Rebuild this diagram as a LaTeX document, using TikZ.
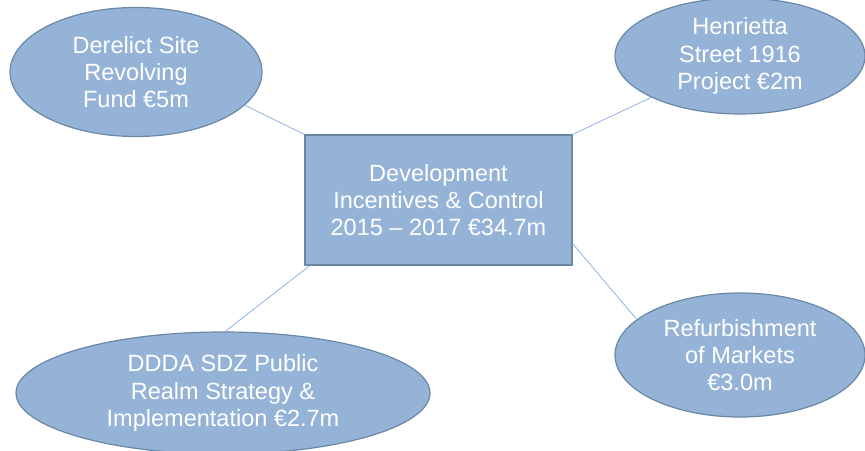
\documentclass[tikz,border=0pt]{standalone}
\usepackage{fontspec}
\setmainfont{Liberation Sans}
\usetikzlibrary{shapes.geometric}
\definecolor{boxfill}{HTML}{95B3D7}
\definecolor{boxline}{HTML}{6A87A6}
\definecolor{linkcol}{HTML}{8DB3E2}
\tikzset{
  lbl/.style={text=white, align=center, font=\fontsize{23.6}{27.5}\selectfont},
  ell/.style={ellipse, fill=boxfill, draw=boxline, line width=1.2bp, inner sep=0pt, lbl},
  hub/.style={rectangle, fill=boxfill, draw=boxline, line width=1.2bp, inner sep=0pt, lbl},
  link/.style={draw=linkcol, line width=0.8bp}
}
\begin{document}
\begin{tikzpicture}[x=1bp,y=-1bp]
\useasboundingbox (0,0) rectangle (865,451);
\node[hub, minimum width=267bp, minimum height=130bp] (c) at (438.5,200) {Development\\Incentives \& Control\\2015 -- 2017 €34.7m};
\node[ell, minimum width=252bp, minimum height=129bp] (d) at (136,72) {Derelict Site\\Revolving\\Fund €5m};
\node[ell, minimum width=250bp, minimum height=116bp] (h) at (740,56) {Henrietta\\Street 1916\\Project €2m};
\node[ell, minimum width=250bp, minimum height=124bp] (r) at (740,355) {Refurbishment\\of Markets\\€3.0m};
\node[ell, minimum width=414bp, minimum height=122bp] (p) at (223,393) {DDDA SDZ Public\\Realm Strategy \&\\Implementation €2.7m};
\draw[link] (d.-17) -- (c.north west);
\draw[link] (h.-155) -- (c.north east);
\draw[link] (c.-18) -- (r.161);
\draw[link] (c.207.4) -- (p.88);
\end{tikzpicture}
\end{document}
